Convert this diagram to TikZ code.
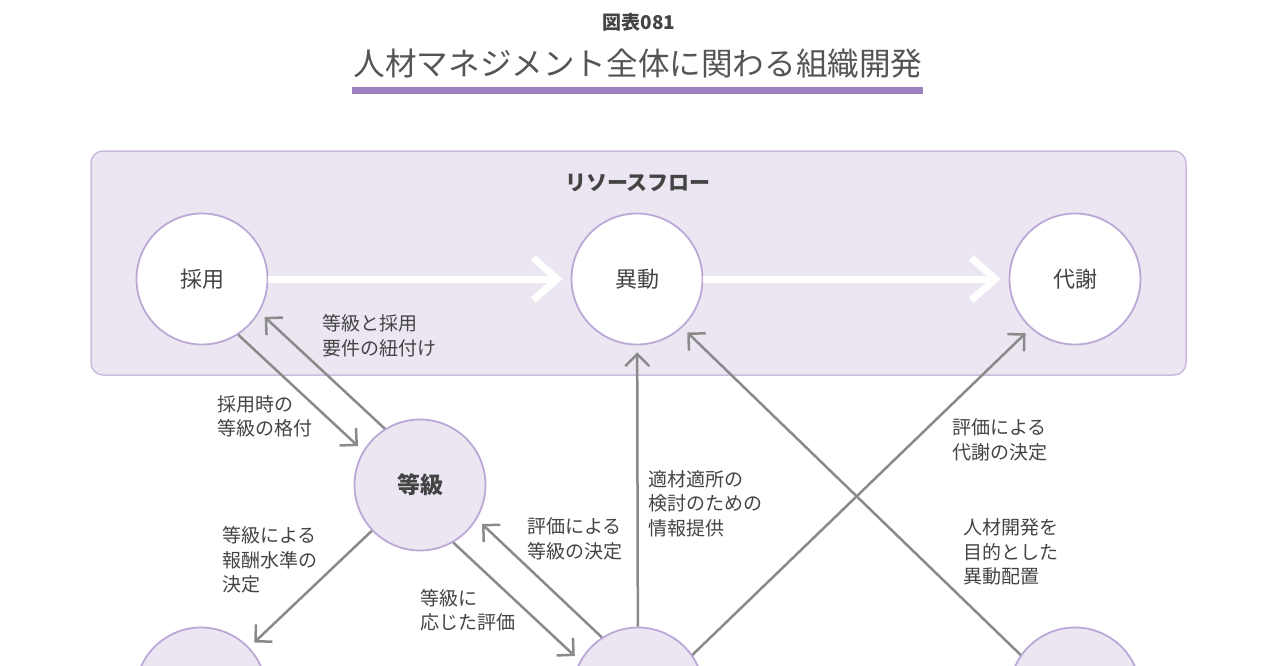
\documentclass[tikz,border=0pt]{standalone}
\usepackage{fontspec}
\setmainfont{Noto Sans CJK JP}
\usetikzlibrary{arrows.meta}
\definecolor{lav}{HTML}{ECE6F2}
\definecolor{lavborder}{HTML}{CBBCDE}
\definecolor{lavline}{HTML}{BBA8D6}
\definecolor{barpurple}{HTML}{9D80BE}
\definecolor{linkgray}{HTML}{8A8A8A}
\definecolor{ink}{HTML}{444444}
\definecolor{titleink}{HTML}{555555}

\begin{document}
\begin{tikzpicture}[x=1pt,y=-1pt,
  flowcircle/.style={circle,draw=lavline,line width=1.8pt,fill=white,minimum size=131pt,
    inner sep=0pt,text=ink,font=\fontsize{22}{26}\selectfont},
  gradecircle/.style={flowcircle,fill=lav,font=\fontsize{23}{26}\selectfont\bfseries},
  basecircle/.style={flowcircle,fill=lav},
  flowarrow/.style={white,line width=7pt,-{Straight Barb[length=24pt,width=42pt]},shorten >=8pt},
  relarrow/.style={linkgray,line width=2.5pt,-{Straight Barb[length=12pt,width=24pt]},shorten >=7pt},
  rellabel/.style={anchor=west,align=left,inner sep=0pt,text=ink,font=\fontsize{19}{24.5}\selectfont}]
  \fill[white] (0,0) rectangle (1280,665);
  \useasboundingbox (0,0) rectangle (1280,665);
  \clip (0,0) rectangle (1280,665);

  % heading
  \node[font=\fontsize{19}{22}\selectfont\bfseries,text=ink] (fignum) at (639,22) {図表081};
  \node[font=\fontsize{31.6}{36}\selectfont,text=titleink] (title) at (638,64) {人材マネジメント全体に関わる組織開発};
  \fill[barpurple] (352,87) rectangle (923,94);

  % resource flow box
  \draw[draw=lavborder,fill=lav,line width=1.5pt,rounded corners=12pt] (91,151) rectangle (1186,375);
  \node[font=\fontsize{21}{24}\selectfont\bfseries,text=ink] (flowtitle) at (638,183) {リソースフロー};

  \node[flowcircle] (saiyo) at (202,279) {採用};
  \node[flowcircle] (ido) at (637,279) {異動};
  \node[flowcircle] (taisha) at (1075,279) {代謝};
  \node[gradecircle] (tokyu) at (420,485) {等級};
  \node[basecircle] (reward) at (201,693) {};
  \node[basecircle] (review) at (638,693) {};
  \node[basecircle] (develop) at (1075,693) {};

  \draw[flowarrow] (saiyo) -- (ido);
  \draw[flowarrow] (ido) -- (taisha);

  % links
  \draw[relarrow] (saiyo.-57) -- (tokyu.149);
  \draw[relarrow] (tokyu.122) -- (saiyo.-30);
  \draw[relarrow] (tokyu) -- (reward);
  \draw[relarrow] (tokyu.-60) -- (review.151);
  \draw[relarrow] (review.123) -- (tokyu.-31);
  \draw[relarrow] (review) -- (ido);
  \draw[relarrow] (review.35) -- (taisha.-132);
  \draw[relarrow] (develop.145) -- (ido.-47);

  \node[rellabel] (lblbind) at (322,335.5) {等級と採用\\要件の紐付け};
  \node[rellabel] (lblrank) at (217,416.5) {採用時の\\等級の格付};
  \node[rellabel] (lblpay) at (222,560) {等級による\\報酬水準の\\決定};
  \node[rellabel] (lbleval) at (420,610) {等級に\\応じた評価};
  \node[rellabel] (lblgrade) at (527,539) {評価による\\等級の決定};
  \node[rellabel] (lblinfo) at (648,503.5) {適材適所の\\検討のための\\情報提供};
  \node[rellabel] (lblexit) at (952,440) {評価による\\代謝の決定};
  \node[rellabel] (lblmove) at (963,552) {人材開発を\\目的とした\\異動配置};
\end{tikzpicture}
\end{document}
